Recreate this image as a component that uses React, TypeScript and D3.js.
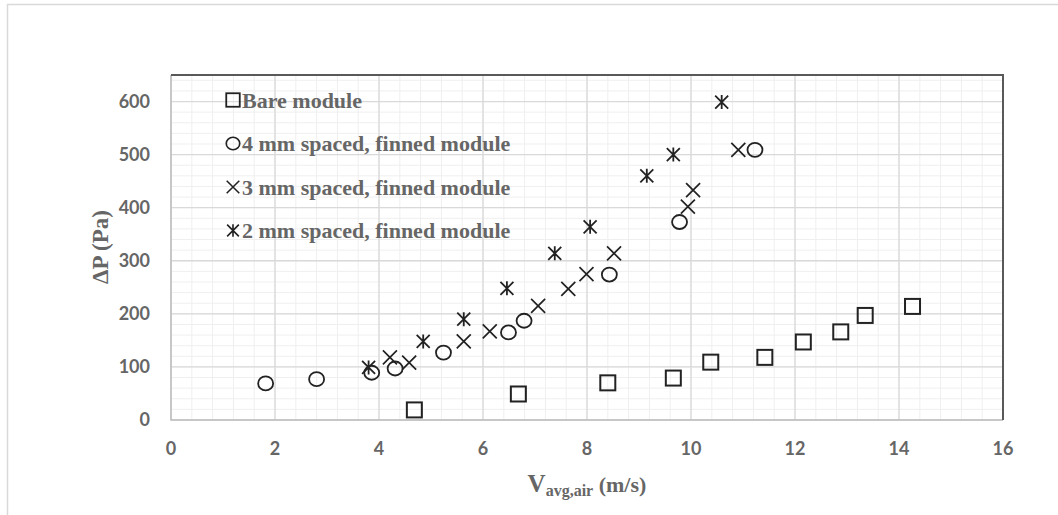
import React, { useEffect, useRef } from 'react';
import * as d3 from 'd3';

// readings of the picture: [V avg air (m/s), dP (Pa)]
const bareModule = [
  [4.68, 19], [6.68, 49], [8.40, 70], [9.66, 79], [10.38, 109],
  [11.42, 118], [12.16, 147], [12.88, 166], [13.35, 197], [14.26, 214],
];
const finned4mm = [
  [1.82, 69], [2.80, 77], [3.86, 89], [4.31, 97], [5.24, 127],
  [6.49, 165], [6.79, 187], [8.43, 274], [9.78, 373], [11.23, 509],
];
const finned3mm = [
  [4.21, 118], [4.58, 108], [5.63, 148], [6.13, 167], [7.06, 215],
  [7.64, 247], [7.99, 275], [8.52, 314], [9.94, 402], [10.04, 433], [10.91, 509],
];
const finned2mm = [
  [3.80, 99], [4.85, 148], [5.63, 190], [6.46, 248], [7.38, 314],
  [8.06, 364], [9.15, 460], [9.66, 500], [10.59, 599],
];
const xTicks = [0, 2, 4, 6, 8, 10, 12, 14, 16];
const yTicks = [0, 100, 200, 300, 400, 500, 600];
const legendLabels = [
  'Bare module',
  '4 mm spaced, finned module',
  '3 mm spaced, finned module',
  '2 mm spaced, finned module',
];

const W = 1058;
const H = 515;
const left = 171, right = 1003, top = 75, bottom = 420;

// draws one marker centred on 0,0
function drawMarker(g: any, kind: string) {
  const stroke = '#222';
  if (kind === 'square') {
    g.append('rect').attr('x', -7.5).attr('y', -7.5).attr('width', 15).attr('height', 15)
      .attr('fill', 'none').attr('stroke', stroke).attr('stroke-width', 2);
  } else if (kind === 'circle') {
    g.append('ellipse').attr('rx', 7.5).attr('ry', 7).attr('fill', 'none')
      .attr('stroke', stroke).attr('stroke-width', 1.8);
  } else if (kind === 'cross') {
    g.append('path').attr('d', 'M-7,-7L7,7M-7,7L7,-7')
      .attr('stroke', stroke).attr('stroke-width', 1.7);
  } else {
    g.append('path').attr('d', 'M-6.5,-6.5L6.5,6.5M-6.5,6.5L6.5,-6.5M0,-7L0,7')
      .attr('stroke', stroke).attr('stroke-width', 1.8);
  }
}

export default function App() {
  const ref = useRef<SVGSVGElement>(null);

  useEffect(() => {
    const svg = d3.select(ref.current);
    svg.selectAll('*').remove();

    const x = d3.scaleLinear().domain([0, 16]).range([left, right]);
    const y = d3.scaleLinear().domain([0, 650]).range([bottom, top]);

    // outer chart frame
    svg.append('rect').attr('x', 7.5).attr('y', 4.5).attr('width', W + 10).attr('height', H + 10)
      .attr('fill', '#fff').attr('stroke', '#d9d9d9').attr('stroke-width', 1.5);

    // minor grid
    const grid = svg.append('g');
    d3.range(0, 16.001, 0.4).forEach(v => {
      grid.append('line').attr('x1', x(v)).attr('x2', x(v)).attr('y1', top).attr('y2', bottom)
        .attr('stroke', '#efefef').attr('stroke-width', 1);
    });
    d3.range(0, 650.001, 20).forEach(v => {
      grid.append('line').attr('x1', left).attr('x2', right).attr('y1', y(v)).attr('y2', y(v))
        .attr('stroke', '#efefef').attr('stroke-width', 1);
    });
    // major grid
    xTicks.forEach(v => {
      grid.append('line').attr('x1', x(v)).attr('x2', x(v)).attr('y1', top).attr('y2', bottom)
        .attr('stroke', '#d9d9d9').attr('stroke-width', 1.3);
    });
    yTicks.forEach(v => {
      grid.append('line').attr('x1', left).attr('x2', right).attr('y1', y(v)).attr('y2', y(v))
        .attr('stroke', '#d9d9d9').attr('stroke-width', 1.3);
    });

    // plot frame: light left/bottom, dark top/right
    svg.append('path').attr('d', `M${left},${top}L${left},${bottom}L${right},${bottom}`)
      .attr('fill', 'none').attr('stroke', '#bfbfbf').attr('stroke-width', 1.5);
    svg.append('path').attr('d', `M${left},${top}L${right},${top}L${right},${bottom}`)
      .attr('fill', 'none').attr('stroke', '#595959').attr('stroke-width', 2);

    // tick labels
    const tickFont = 'Lato, "Open Sans", sans-serif';
    svg.append('g').selectAll('text').data(xTicks).enter().append('text')
      .attr('x', d => x(d)).attr('y', 455).attr('text-anchor', 'middle')
      .attr('font-family', tickFont).attr('font-weight', 'bold').attr('font-size', 18)
      .attr('fill', '#666').text(d => d);
    svg.append('g').selectAll('text').data(yTicks).enter().append('text')
      .attr('x', 150).attr('y', d => y(d) + 6).attr('text-anchor', 'end')
      .attr('font-family', tickFont).attr('font-weight', 'bold').attr('font-size', 18)
      .attr('fill', '#666').text(d => d);

    // axis titles
    const serif = '"Liberation Serif", "DejaVu Serif", serif';
    svg.append('text').attr('transform', `translate(108, 247) rotate(-90)`)
      .attr('text-anchor', 'middle').attr('font-family', serif).attr('font-weight', 'bold')
      .attr('font-size', 23).attr('fill', '#666').text('ΔP (Pa)');
    const xt = svg.append('text').attr('x', 587).attr('y', 492).attr('text-anchor', 'middle')
      .attr('font-family', serif).attr('font-weight', 'bold').attr('fill', '#666');
    xt.append('tspan').attr('font-size', 25).text('V');
    xt.append('tspan').attr('font-size', 16).attr('dy', 4).text('avg,air');
    xt.append('tspan').attr('font-size', 22).attr('dy', -4).text(' (m/s)');

    // series
    const series = [
      { data: bareModule, kind: 'square' },
      { data: finned4mm, kind: 'circle' },
      { data: finned3mm, kind: 'cross' },
      { data: finned2mm, kind: 'asterisk' },
    ];
    series.forEach(s => {
      s.data.forEach(d => {
        const g = svg.append('g').attr('transform', `translate(${x(d[0])},${y(d[1])})`);
        drawMarker(g, s.kind);
      });
    });

    // legend
    legendLabels.forEach((label, i) => {
      const ly = 100 + i * 43.5;
      const g = svg.append('g').attr('transform', `translate(233,${ly})`);
      const mg = g.append('g').attr('transform', 'scale(0.9)');
      drawMarker(mg, series[i].kind);
      g.append('text').attr('x', 9).attr('y', 7.5).attr('font-family', serif)
        .attr('font-weight', 'bold').attr('font-size', 22).attr('fill', '#666').text(label);
    });
  }, []);

  return (
    <svg ref={ref} width={W} height={H}
      style={{ position: 'absolute', left: 0, top: 0, background: '#fff' }} />
  );
}
